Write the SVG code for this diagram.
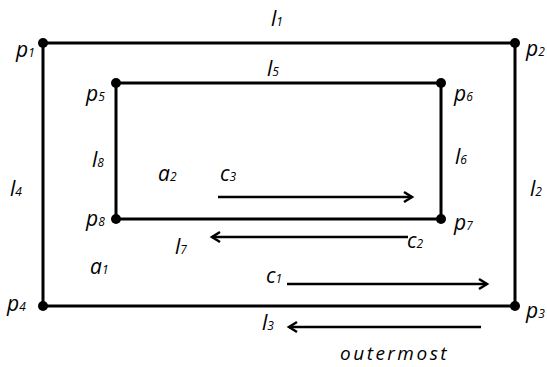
<svg xmlns="http://www.w3.org/2000/svg" width="547" height="367" viewBox="0 0 547 367">
<style>
.e{fill:none;stroke:#000;stroke-width:3}
.a{fill:none;stroke:#000;stroke-width:2.5}
.d{fill:#000}
text{font-family:"Open Sans","DejaVu Sans",sans-serif;font-style:italic;font-size:21px;fill:#000}
.s{font-size:12px}
.o{font-size:19px;letter-spacing:2.5px}
</style>
<defs>
<marker id="h" markerWidth="14" markerHeight="14" refX="11" refY="7" orient="auto" markerUnits="userSpaceOnUse">
<path d="M3,2 L11,7 L3,12" fill="none" stroke="#000" stroke-width="2.5"/>
</marker>
</defs>
<g id="connectors">
<rect class="e" x="43" y="43" width="472" height="263"/>
<rect class="e" x="116" y="83" width="325" height="136"/>
<line class="a" x1="218" y1="197" x2="412" y2="197" marker-end="url(#h)"/>
<line class="a" x1="408" y1="237" x2="212" y2="237" marker-end="url(#h)"/>
<line class="a" x1="287" y1="284" x2="487" y2="284" marker-end="url(#h)"/>
<line class="a" x1="481" y1="327" x2="289" y2="327" marker-end="url(#h)"/>
</g>
<g id="p1"><circle class="d" cx="43" cy="43" r="5"/><text x="16" y="57">p<tspan class="s">1</tspan></text></g>
<g id="p2"><circle class="d" cx="515" cy="43" r="5"/><text x="526" y="56">p<tspan class="s">2</tspan></text></g>
<g id="p3"><circle class="d" cx="515" cy="306" r="5"/><text x="526" y="318">p<tspan class="s">3</tspan></text></g>
<g id="p4"><circle class="d" cx="43" cy="306" r="5"/><text x="7" y="311">p<tspan class="s">4</tspan></text></g>
<g id="p5"><circle class="d" cx="116" cy="83" r="5"/><text x="86" y="101">p<tspan class="s">5</tspan></text></g>
<g id="p6"><circle class="d" cx="441" cy="83" r="5"/><text x="454" y="101">p<tspan class="s">6</tspan></text></g>
<g id="p7"><circle class="d" cx="441" cy="219" r="5"/><text x="454" y="230">p<tspan class="s">7</tspan></text></g>
<g id="p8"><circle class="d" cx="116" cy="219" r="5"/><text x="86" y="226">p<tspan class="s">8</tspan></text></g>
<g id="labels">
<text x="271" y="26">l<tspan class="s">1</tspan></text>
<text x="530" y="196">l<tspan class="s">2</tspan></text>
<text x="262" y="330">l<tspan class="s">3</tspan></text>
<text x="10" y="196">l<tspan class="s">4</tspan></text>
<text x="267" y="76">l<tspan class="s">5</tspan></text>
<text x="455" y="164">l<tspan class="s">6</tspan></text>
<text x="175" y="254">l<tspan class="s">7</tspan></text>
<text x="92" y="167">l<tspan class="s">8</tspan></text>
<text x="90" y="274">a<tspan class="s">1</tspan></text>
<text x="158" y="181">a<tspan class="s">2</tspan></text>
<text x="266" y="283">c<tspan class="s">1</tspan></text>
<text x="407" y="248">c<tspan class="s">2</tspan></text>
<text x="220" y="181">c<tspan class="s">3</tspan></text>
<text class="o" x="340" y="360">outermost</text>
</g>
</svg>
